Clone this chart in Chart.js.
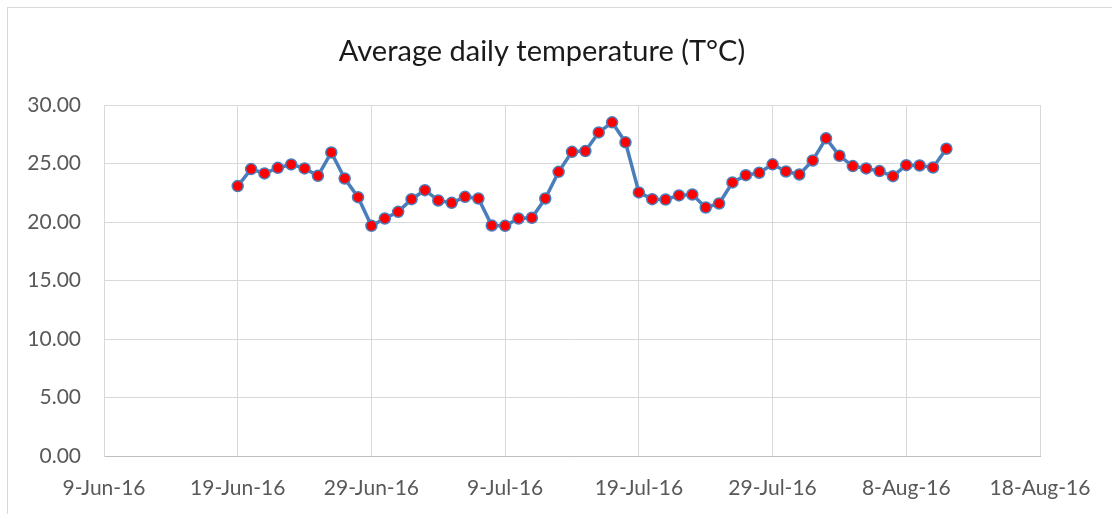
<!DOCTYPE html>
<html>
<head>
<meta charset="utf-8">
<script src="https://cdn.jsdelivr.net/npm/chart.js@4/dist/chart.umd.min.js"></script>
<style>
  html, body { margin: 0; padding: 0; background: #fff; }
  #wrap { position: relative; width: 1112px; height: 514px; }
</style>
</head>
<body>
<div id="wrap"><canvas id="temp-chart" width="1112" height="514"></canvas></div>
<script>
// daily readings, 19-Jun-16 .. 11-Aug-16
const START_DATE = '2016-06-09';
const dates = [
  '2016-06-19', '2016-06-20', '2016-06-21', '2016-06-22', '2016-06-23', '2016-06-24',
  '2016-06-25', '2016-06-26', '2016-06-27', '2016-06-28', '2016-06-29', '2016-06-30',
  '2016-07-01', '2016-07-02', '2016-07-03', '2016-07-04', '2016-07-05', '2016-07-06',
  '2016-07-07', '2016-07-08', '2016-07-09', '2016-07-10', '2016-07-11', '2016-07-12',
  '2016-07-13', '2016-07-14', '2016-07-15', '2016-07-16', '2016-07-17', '2016-07-18',
  '2016-07-19', '2016-07-20', '2016-07-21', '2016-07-22', '2016-07-23', '2016-07-24',
  '2016-07-25', '2016-07-26', '2016-07-27', '2016-07-28', '2016-07-29', '2016-07-30',
  '2016-07-31', '2016-08-01', '2016-08-02', '2016-08-03', '2016-08-04', '2016-08-05',
  '2016-08-06', '2016-08-07', '2016-08-08', '2016-08-09', '2016-08-10', '2016-08-11'
];
const temps = [
  23.07, 24.52, 24.15, 24.63, 24.92, 24.58,
  23.95, 25.95, 23.72, 22.12, 19.67, 20.30,
  20.87, 21.95, 22.72, 21.84, 21.64, 22.15,
  22.01, 19.70, 19.67, 20.30, 20.36, 22.01,
  24.29, 26.00, 26.06, 27.66, 28.52, 26.81,
  22.53, 21.95, 21.92, 22.27, 22.35, 21.24,
  21.58, 23.38, 24.00, 24.21, 24.93, 24.32,
  24.06, 25.26, 27.15, 25.66, 24.78, 24.58,
  24.35, 23.92, 24.86, 24.83, 24.66, 26.26
];
const xRangeDays = [0, 70];   // 9-Jun-16 .. 18-Aug-16
const yTicks = [0, 5, 10, 15, 20, 25, 30];

const MONTHS = ['Jan', 'Feb', 'Mar', 'Apr', 'May', 'Jun', 'Jul', 'Aug', 'Sep', 'Oct', 'Nov', 'Dec'];
const DAY = 86400000;
const t0 = Date.parse(START_DATE + 'T00:00:00Z');
function dayOffset(s) { return Math.round((Date.parse(s + 'T00:00:00Z') - t0) / DAY); }
function fmtDay(n) {
  const d = new Date(t0 + n * DAY);
  return d.getUTCDate() + '-' + MONTHS[d.getUTCMonth()] + '-' + String(d.getUTCFullYear()).slice(2);
}

const points = dates.map((d, i) => ({ x: dayOffset(d), y: temps[i] }));

// outer chart frame (only the top/left edges fall inside the picture)
const framePlugin = {
  id: 'frame',
  beforeDraw(chart) {
    const c = chart.ctx;
    c.save();
    c.strokeStyle = '#d9d9d9';
    c.lineWidth = 1;
    c.strokeRect(7.5, 7.5, 1120, 520);
    c.restore();
  }
};

const FONT = "Lato, 'Open Sans', sans-serif";
new Chart(document.getElementById('temp-chart'), {
  type: 'line',
  data: {
    datasets: [{
      data: points,
      borderColor: '#4a7ebb',
      borderWidth: 3.5,
      backgroundColor: '#ff0000',
      pointBackgroundColor: '#ff0000',
      pointBorderColor: '#4a7ebb',
      pointBorderWidth: 1.5,
      pointRadius: 5.5,
      tension: 0
    }]
  },
  plugins: [framePlugin],
  options: {
    responsive: false,
    animation: false,
    layout: { padding: { left: 0, right: 28, top: 0, bottom: 0 } },
    plugins: {
      legend: { display: false },
      tooltip: { enabled: false },
      title: {
        display: true,
        text: 'Average daily temperature (T°C)',
        color: '#1a1a1a',
        font: { family: FONT, size: 29, weight: 'normal', lineHeight: 1.2 },
        padding: { top: 34, bottom: 36.2 }
      }
    },
    scales: {
      x: {
        type: 'linear',
        min: xRangeDays[0],
        max: xRangeDays[1],
        afterFit(s) { s.height = 58; },
        ticks: {
          stepSize: 10,
          color: '#595959',
          font: { family: FONT, size: 21 },
          padding: 20,
          maxRotation: 0,
          callback: v => fmtDay(v)
        },
        grid: { color: '#d9d9d9', lineWidth: 1, drawTicks: false },
        border: { color: '#bfbfbf' }
      },
      y: {
        min: yTicks[0],
        max: yTicks[yTicks.length - 1],
        afterFit(s) { s.width = 104; },
        afterBuildTicks(s) { s.ticks = yTicks.map(v => ({ value: v })); },
        ticks: {
          color: '#595959',
          font: { family: FONT, size: 21 },
          padding: 23,
          callback: v => Number(v).toFixed(2)
        },
        grid: { color: '#d9d9d9', lineWidth: 1, drawTicks: false },
        border: { color: '#d9d9d9' }
      },
      // empty right-hand strip so the plot ends at 18-Aug like the original
      yRight: {
        type: 'linear',
        position: 'right',
        afterFit(s) { s.width = 44; },
        ticks: { display: false },
        grid: { display: false, drawOnChartArea: false },
        border: { display: false }
      }
    }
  }
});
</script>
</body>
</html>
